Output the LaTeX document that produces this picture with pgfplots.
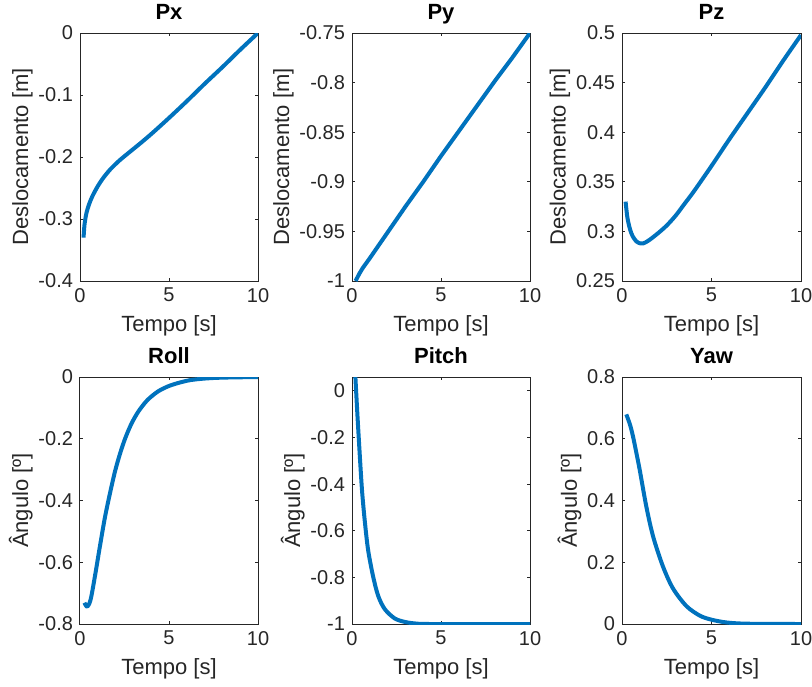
\documentclass[border=0pt]{standalone}
\usepackage{fontspec}
\setmainfont{Liberation Sans}
\usepackage{pgfplots}
\pgfplotsset{compat=1.18}
\definecolor{mblue}{HTML}{0072BD}
\definecolor{axgray}{HTML}{262626}
\pgfplotsset{
  sub/.style={scale only axis, anchor=south west, width=89pt,
    xmin=0, xmax=10, xtick={0,5,10}, xticklabels={0,5,10},
    axis line style={axgray, line width=0.5pt}, tick style={axgray, line width=0.5pt},
    major tick length=1.6pt, tick align=inside,
    tick label style={font=\fontsize{10}{12}\selectfont, text=axgray},
    label style={font=\fontsize{11}{13}\selectfont, text=axgray},
    ylabel shift=-4pt,
    title style={font=\fontsize{11}{13}\selectfont\bfseries, yshift=-5.5pt, text height=8pt, text depth=2.5pt},
    xlabel={Tempo [s]},
    cycle list={{mblue, line width=2pt}},
    every axis plot/.append style={mblue, line width=2pt, no marks, line join=round}},
}
\begin{document}
\begin{tikzpicture}
\useasboundingbox (0,0) rectangle (406pt,-343pt);
% top row
\begin{axis}[sub, at={(40pt,-140.5pt)}, height=124pt, title={Px},
  ymin=-0.4, ymax=0, ytick={-0.4,-0.3,-0.2,-0.1,0}, yticklabels={-0.4,-0.3,-0.2,-0.1,0},
  ylabel={Deslocamento [m]}]
\addplot[smooth] coordinates {(0.2,-0.33) (0.25,-0.31) (0.35,-0.292) (0.5,-0.277) (0.7,-0.263) (1.0,-0.247) (1.3,-0.234) (1.7,-0.22) (2.2,-0.206) (2.7,-0.194) (3.3,-0.18) (4,-0.163) (5,-0.137) (6,-0.11) (7,-0.082) (8,-0.055) (9,-0.027) (10,0)};
\end{axis}
\begin{axis}[sub, at={(176pt,-140.5pt)}, height=124pt, title={Py},
  ymin=-1, ymax=-0.75, ytick={-1,-0.95,-0.9,-0.85,-0.8,-0.75}, yticklabels={-1,-0.95,-0.9,-0.85,-0.8,-0.75},
  ylabel={Deslocamento [m]}]
\addplot[mblue] coordinates {(0.2,-1) (0.4,-0.993) (0.6,-0.987) (1,-0.977) (2,-0.951) (3,-0.925) (4,-0.900) (5,-0.874) (6,-0.849) (7,-0.824) (8,-0.799) (9,-0.775) (10,-0.75)};
\end{axis}
\begin{axis}[sub, at={(311pt,-140.5pt)}, width=89.5pt, height=124pt, title={Pz},
  ymin=0.25, ymax=0.5, ytick={0.25,0.3,0.35,0.4,0.45,0.5}, yticklabels={0.25,0.3,0.35,0.4,0.45,0.5},
  ylabel={Deslocamento [m]}]
\addplot[smooth] coordinates {(0.2,0.33) (0.3,0.314) (0.45,0.302) (0.6,0.295) (0.8,0.29) (1.0,0.288) (1.2,0.288) (1.5,0.291) (2,0.298) (2.5,0.306) (3,0.316) (3.5,0.328) (4,0.340) (5,0.366) (6,0.393) (7,0.419) (8,0.445) (9,0.472) (10,0.498)};
\end{axis}
% bottom row
\begin{axis}[sub, at={(40pt,-312pt)}, height=123.5pt, title={Roll},
  ymin=-0.8, ymax=0, ytick={-0.8,-0.6,-0.4,-0.2,0}, yticklabels={-0.8,-0.6,-0.4,-0.2,0},
  ylabel={Ângulo [º]}]
\addplot[smooth] coordinates {(0.25,-0.731) (0.41,-0.744) (0.6,-0.72) (0.84,-0.645) (1.12,-0.548) (1.4,-0.455) (1.69,-0.375) (1.97,-0.305) (2.25,-0.248) (2.55,-0.197) (2.9,-0.150) (3.3,-0.110) (3.8,-0.074) (4.4,-0.046) (5,-0.029) (5.6,-0.018) (6.2,-0.010) (7,-0.005) (8,-0.002) (10,0)};
\end{axis}
\begin{axis}[sub, at={(176pt,-312pt)}, height=123.5pt, title={Pitch},
  ymin=-1, ymax=0.06, ytick={-1,-0.8,-0.6,-0.4,-0.2,0}, yticklabels={-1,-0.8,-0.6,-0.4,-0.2,0},
  ylabel={Ângulo [º]}]
\addplot[smooth] coordinates {(0.19,0.06) (0.3,-0.097) (0.43,-0.267) (0.56,-0.424) (0.71,-0.552) (0.9,-0.68) (1.18,-0.794) (1.47,-0.879) (1.84,-0.936) (2.4,-0.976) (2.97,-0.991) (3.6,-0.998) (4.5,-1) (10,-1)};
\end{axis}
\begin{axis}[sub, at={(311pt,-312pt)}, width=89.5pt, height=123.5pt, title={Yaw},
  ymin=0, ymax=0.8, ytick={0,0.2,0.4,0.6,0.8}, yticklabels={0,0.2,0.4,0.6,0.8},
  ylabel={Ângulo [º]}]
\addplot[smooth] coordinates {(0.24,0.679) (0.45,0.645) (0.62,0.606) (0.8,0.555) (0.99,0.499) (1.36,0.38) (1.74,0.283) (2.29,0.186) (2.85,0.115) (3.6,0.058) (4.35,0.027) (5,0.014) (5.84,0.005) (7,0.001) (10,0)};
\end{axis}
\end{tikzpicture}
\end{document}
